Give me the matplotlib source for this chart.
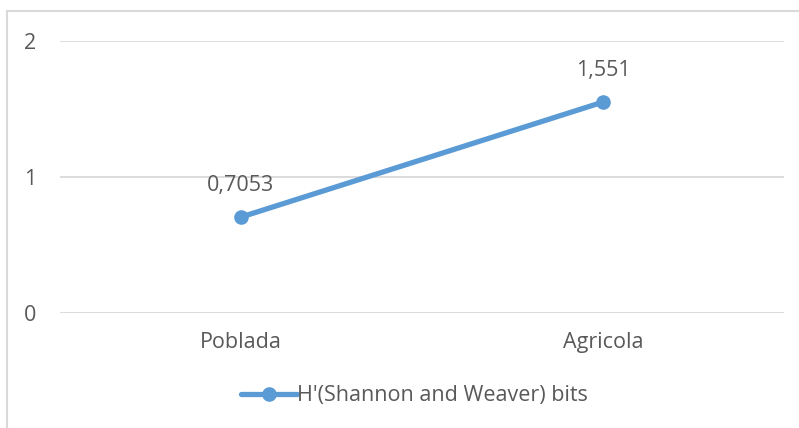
import matplotlib
matplotlib.use("Agg")
import matplotlib.pyplot as plt
from matplotlib.patches import Rectangle

categories = ["Poblada", "Agricola"]
values = [0.7053, 1.551]
value_labels = ["0,7053", "1,551"]
series_name = "H'(Shannon and Weaver) bits"
yticks = [0, 1, 2]

plt.rcParams['font.family'] = ['Open Sans', 'DejaVu Sans']
W, H = 799, 428
fig = plt.figure(figsize=(W/100, H/100), dpi=100)
ax = fig.add_axes([60/W, 1-313/H, (784-60)/W, (313-41)/H])

color = '#5B9BD5'
txt = '#595959'
fs = 15.5
x = list(range(len(categories)))
ax.plot(x, values, color=color, lw=3.8, marker='o', ms=9.5, solid_capstyle='round',
        label=series_name, zorder=3)
for xi, v, lab in zip(x, values, value_labels):
    ax.annotate(lab, (xi, v), xytext=(0, 23), textcoords='offset points',
                ha='center', va='center', fontsize=fs, color=txt)

ax.set_xlim(-0.5, len(categories)-0.5)
ax.set_ylim(0, 2)
ax.set_yticks(yticks)
ax.set_yticklabels([str(t) for t in yticks])
ax.set_xticks(x)
ax.set_xticklabels(categories)
ax.tick_params(axis='y', length=0, pad=17, labelsize=fs, labelcolor=txt)
ax.tick_params(axis='x', length=0, pad=14, labelsize=fs, labelcolor=txt)
ax.grid(axis='y', color='#d9d9d9', lw=1.3)
ax.set_axisbelow(True)
for s in ax.spines.values():
    s.set_visible(False)

leg = fig.legend(loc='center', bbox_to_anchor=(414/W, 1-396/H), frameon=False,
                 fontsize=fs, labelcolor=txt, handlelength=2.6, handletextpad=0.0)

fig.patches.append(Rectangle((7/W, -0.1), 1.2, 1-11/H+0.1, transform=fig.transFigure,
                             fill=False, edgecolor='#d9d9d9', lw=1.5))
fig.savefig('out.png', dpi=100, facecolor='white')
